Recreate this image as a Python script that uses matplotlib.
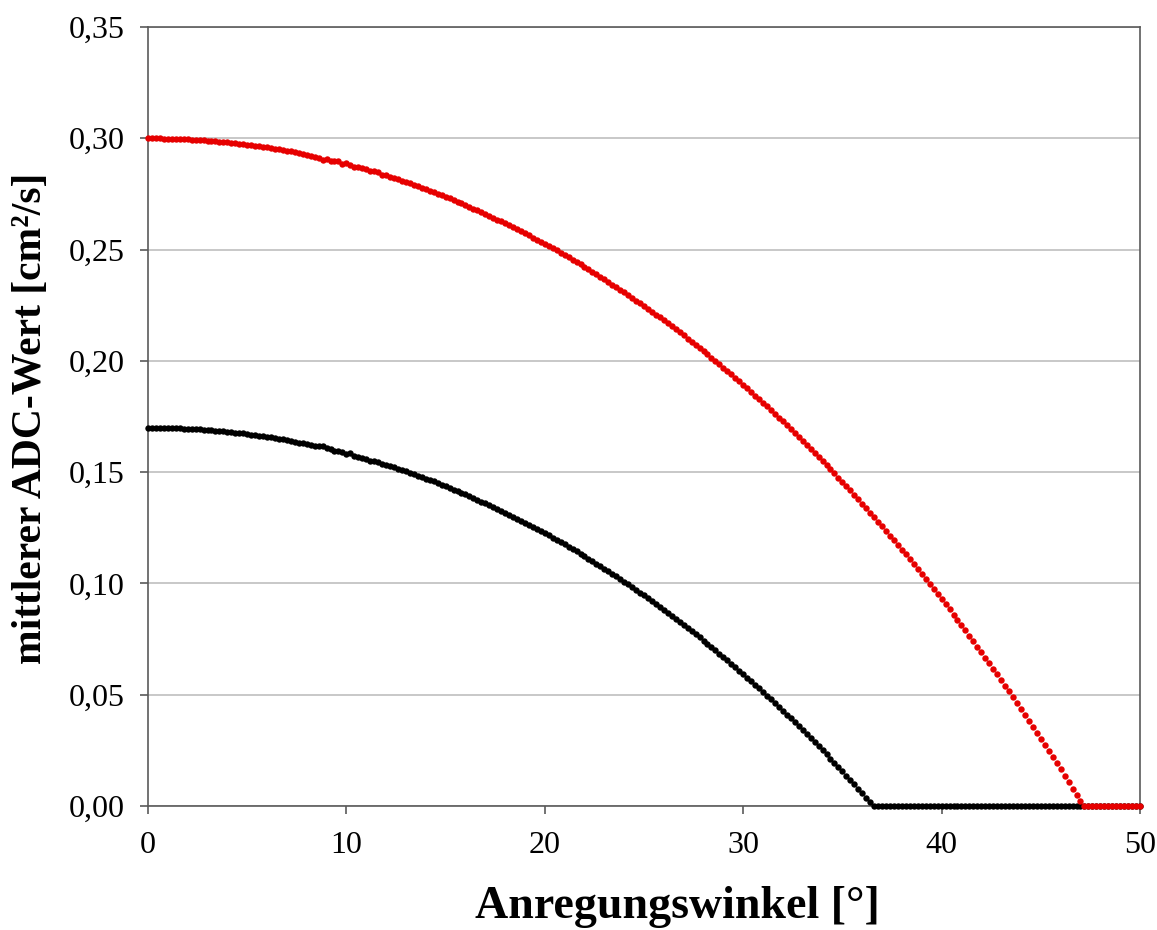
import numpy as np
import matplotlib
matplotlib.use("Agg")
import matplotlib.pyplot as plt
from matplotlib.ticker import FuncFormatter, MultipleLocator

# Excitation angle sampled every 0.2 degrees from 0 to 50
angle_step = 0.2
angles = np.round(np.arange(251) * angle_step, 1)

# Mean ADC value [cm^2/s] for the upper (red) series, 0.0 .. 47.0 deg, then zero
adc_red = [
    0.3000, 0.3000, 0.3000, 0.3000, 0.2999, 0.2999, 0.2998, 0.2998, 0.2997, 0.2996,
    0.2995, 0.2994, 0.2993, 0.2992, 0.2991, 0.2990, 0.2988, 0.2987, 0.2985, 0.2983,
    0.2982, 0.2980, 0.2978, 0.2976, 0.2974, 0.2971, 0.2969, 0.2966, 0.2964, 0.2961,
    0.2959, 0.2956, 0.2953, 0.2950, 0.2949, 0.2945, 0.2941, 0.2937, 0.2933, 0.2930,
    0.2926, 0.2922, 0.2918, 0.2913, 0.2904, 0.2909, 0.2898, 0.2900, 0.2896, 0.2886,
    0.2888, 0.2881, 0.2873, 0.2870, 0.2865, 0.2860, 0.2851, 0.2853, 0.2847, 0.2836,
    0.2833, 0.2827, 0.2821, 0.2815, 0.2809, 0.2803, 0.2797, 0.2791, 0.2784, 0.2778,
    0.2771, 0.2765, 0.2758, 0.2751, 0.2744, 0.2737, 0.2730, 0.2722, 0.2715, 0.2707,
    0.2700, 0.2692, 0.2684, 0.2676, 0.2668, 0.2660, 0.2652, 0.2644, 0.2635, 0.2627,
    0.2618, 0.2609, 0.2600, 0.2591, 0.2582, 0.2573, 0.2564, 0.2554, 0.2545, 0.2535,
    0.2526, 0.2516, 0.2506, 0.2496, 0.2486, 0.2475, 0.2465, 0.2455, 0.2444, 0.2433,
    0.2422, 0.2411, 0.2400, 0.2389, 0.2378, 0.2367, 0.2355, 0.2343, 0.2332, 0.2320,
    0.2308, 0.2296, 0.2283, 0.2271, 0.2259, 0.2246, 0.2233, 0.2221, 0.2208, 0.2195,
    0.2182, 0.2168, 0.2155, 0.2141, 0.2128, 0.2114, 0.2100, 0.2086, 0.2072, 0.2058,
    0.2043, 0.2029, 0.2014, 0.1999, 0.1984, 0.1969, 0.1954, 0.1939, 0.1923, 0.1908,
    0.1892, 0.1876, 0.1860, 0.1844, 0.1828, 0.1812, 0.1795, 0.1779, 0.1762, 0.1745,
    0.1728, 0.1711, 0.1694, 0.1676, 0.1659, 0.1641, 0.1623, 0.1605, 0.1587, 0.1569,
    0.1550, 0.1532, 0.1513, 0.1494, 0.1475, 0.1456, 0.1437, 0.1418, 0.1398, 0.1378,
    0.1358, 0.1338, 0.1318, 0.1298, 0.1278, 0.1257, 0.1236, 0.1215, 0.1194, 0.1173,
    0.1152, 0.1130, 0.1109, 0.1087, 0.1065, 0.1043, 0.1020, 0.0998, 0.0975, 0.0953,
    0.0930, 0.0907, 0.0883, 0.0860, 0.0836, 0.0813, 0.0789, 0.0765, 0.0740, 0.0716,
    0.0691, 0.0667, 0.0642, 0.0617, 0.0591, 0.0566, 0.0540, 0.0515, 0.0489, 0.0463,
    0.0436, 0.0410, 0.0383, 0.0356, 0.0329, 0.0302, 0.0275, 0.0247, 0.0220, 0.0192,
    0.0164, 0.0135, 0.0107, 0.0078, 0.0050, 0.0021,
] + [0.0] * 15

# Mean ADC value [cm^2/s] for the lower (black) series, 0.0 .. 36.4 deg, then zero
adc_black = [
    0.1700, 0.1700, 0.1700, 0.1700, 0.1699, 0.1699, 0.1698, 0.1698, 0.1697, 0.1696,
    0.1695, 0.1694, 0.1693, 0.1692, 0.1691, 0.1690, 0.1688, 0.1687, 0.1685, 0.1683,
    0.1682, 0.1680, 0.1678, 0.1676, 0.1674, 0.1671, 0.1669, 0.1666, 0.1664, 0.1661,
    0.1659, 0.1656, 0.1653, 0.1650, 0.1647, 0.1643, 0.1640, 0.1637, 0.1633, 0.1630,
    0.1626, 0.1622, 0.1618, 0.1617, 0.1618, 0.1610, 0.1604, 0.1594, 0.1596, 0.1592,
    0.1581, 0.1584, 0.1572, 0.1566, 0.1563, 0.1561, 0.1552, 0.1549, 0.1544, 0.1538,
    0.1533, 0.1527, 0.1521, 0.1515, 0.1509, 0.1503, 0.1497, 0.1491, 0.1484, 0.1478,
    0.1471, 0.1465, 0.1458, 0.1451, 0.1444, 0.1437, 0.1430, 0.1422, 0.1415, 0.1407,
    0.1400, 0.1392, 0.1384, 0.1376, 0.1368, 0.1360, 0.1352, 0.1344, 0.1335, 0.1327,
    0.1318, 0.1309, 0.1300, 0.1291, 0.1282, 0.1273, 0.1264, 0.1254, 0.1245, 0.1235,
    0.1226, 0.1216, 0.1206, 0.1196, 0.1186, 0.1175, 0.1165, 0.1155, 0.1144, 0.1133,
    0.1122, 0.1111, 0.1100, 0.1089, 0.1078, 0.1067, 0.1055, 0.1043, 0.1032, 0.1020,
    0.1008, 0.0996, 0.0983, 0.0971, 0.0959, 0.0946, 0.0933, 0.0921, 0.0908, 0.0895,
    0.0882, 0.0868, 0.0855, 0.0841, 0.0828, 0.0814, 0.0800, 0.0786, 0.0772, 0.0758,
    0.0743, 0.0729, 0.0714, 0.0699, 0.0684, 0.0669, 0.0654, 0.0639, 0.0623, 0.0608,
    0.0592, 0.0576, 0.0560, 0.0544, 0.0528, 0.0512, 0.0495, 0.0479, 0.0462, 0.0445,
    0.0428, 0.0411, 0.0394, 0.0376, 0.0359, 0.0341, 0.0323, 0.0305, 0.0287, 0.0269,
    0.0250, 0.0232, 0.0213, 0.0194, 0.0175, 0.0156, 0.0137, 0.0118, 0.0098, 0.0078,
    0.0058, 0.0038, 0.0018,
] + [0.0] * 68

x_ticks = [0, 10, 20, 30, 40, 50]
x_label = "Anregungswinkel [°]"
y_label = "mittlerer ADC-Wert [cm²/s]"

plt.rcParams["font.family"] = ["Liberation Serif", "DejaVu Serif"]

W, H = 1157, 930
fig = plt.figure(figsize=(W / 100, H / 100), dpi=100)
ax = fig.add_axes([148 / W, 124 / H, 992 / W, 779 / H])

spine_col = "#5a5a5a"
for sp in ax.spines.values():
    sp.set_color(spine_col)
    sp.set_linewidth(1.2)

ax.set_xlim(0, 50)
ax.set_ylim(0, 0.35)
ax.set_xticks(x_ticks)
ax.yaxis.set_major_locator(MultipleLocator(0.05))
ax.yaxis.set_major_formatter(FuncFormatter(lambda v, _: f"{v:.2f}".replace(".", ",")))
ax.xaxis.set_major_formatter(FuncFormatter(lambda v, _: f"{v:.0f}"))

ax.tick_params(axis="both", direction="out", length=6, width=1.2, color=spine_col,
               labelsize=23, labelcolor="black")
ax.tick_params(axis="y", pad=11)
ax.tick_params(axis="x", pad=12)

ax.yaxis.grid(True, color="#c8c8c8", linewidth=1.4)
ax.set_axisbelow(True)

ax.plot(angles, adc_black, linestyle="none", marker="o", markersize=4.6,
        markeredgewidth=0, color="#000000", zorder=3, clip_on=False)
ax.plot(angles, adc_red, linestyle="none", marker="o", markersize=4.6,
        markeredgewidth=0, color="#e60000", zorder=4, clip_on=False)

fig.text(677 / W, 1 - 918 / H, x_label, ha="center", va="baseline",
         fontsize=33, fontweight="bold")
fig.text(31 / W, 1 - 418 / H, y_label, ha="center", va="center", rotation=90,
         fontsize=30, fontweight="bold")

fig.savefig("out.png", dpi=100)
